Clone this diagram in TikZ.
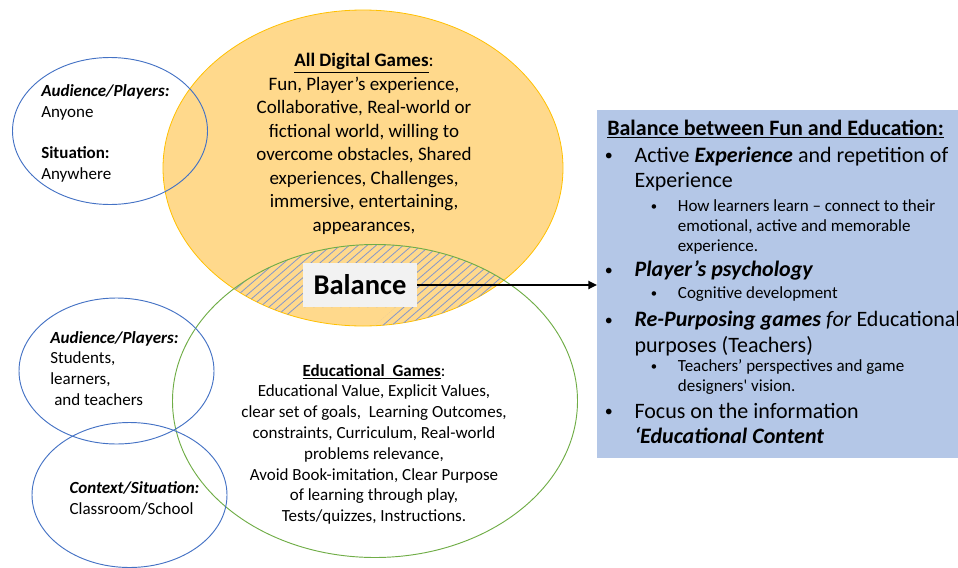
\documentclass[tikz,border=0pt]{standalone}
\usepackage{fontspec}
\setmainfont{Carlito}
\usetikzlibrary{arrows.meta,positioning}
\definecolor{gamefill}{RGB}{255,217,140}
\definecolor{gameline}{RGB}{255,192,0}
\definecolor{edugreen}{RGB}{112,173,71}
\definecolor{ctxblue}{RGB}{68,114,196}
\definecolor{panelblue}{RGB}{180,199,231}
\definecolor{hatchblue}{RGB}{132,151,204}
\definecolor{balgray}{RGB}{242,242,242}
\tikzset{
  ring/.style    ={draw=ctxblue, line width=0.7pt},
  hatch/.style   ={draw=hatchblue, line width=0.6pt},
  gametxt/.style ={align=center, anchor=base, inner sep=0pt,
                   font=\fontsize{14.25}{17.6}\selectfont},
  edutxt/.style  ={align=center, anchor=base, inner sep=0pt,
                   font=\fontsize{12.75}{15.6}\selectfont},
  sidetxt/.style ={align=left, anchor=base west, inner sep=0pt,
                   font=\fontsize{12.75}{15.45}\selectfont},
  balbox/.style  ={rectangle, fill=balgray, inner sep=0pt, minimum width=85.5pt,
                   minimum height=33pt, font=\fontsize{21.4}{24}\selectfont\bfseries},
  panel/.style   ={rectangle, fill=panelblue, anchor=west, inner sep=0pt,
                   minimum width=290pt, minimum height=261pt},
  headtxt/.style ={anchor=base west, inner sep=0pt, font=\fontsize{16.5}{19.3}\selectfont\bfseries},
  itemtxt/.style ={align=left, anchor=base west, inner sep=0pt,
                   font=\fontsize{16.5}{19.3}\selectfont},
  subtxt/.style  ={align=left, anchor=base west, inner sep=0pt,
                   font=\fontsize{12.75}{15}\selectfont},
  bul/.style     ={anchor=base west, inner sep=0pt, font=\fontsize{12}{14}\selectfont},
  subbul/.style  ={anchor=base west, inner sep=0pt, font=\fontsize{9.5}{11}\selectfont},
  link/.style    ={-{Triangle[length=6.5pt,width=6pt]}, line width=2.2pt, draw=black}
}

\begin{document}
\begin{tikzpicture}[x=0.75pt,y=-0.75pt]
  \useasboundingbox (0,0) rectangle (958,568);
  \clip (0,0) rectangle (958,568);

  % digital games, with the shared part hatched
  \path[fill=gamefill, draw=gameline, line width=0.6pt] (363,168) ellipse [x radius=200, y radius=158];
  \begin{scope}
    \clip (363,168) ellipse [x radius=200, y radius=158];
    \clip (375,401) ellipse [x radius=202.5, y radius=156.5];
    \clip (200,236) -- (600,236) -- (600,340) -- (358,340) -- (396,307)
          -- (300,307) -- (275,340) -- (200,340) -- cycle;
    \foreach \k in {0,...,36}
      \draw[hatch] (150+9*\k,340) -- ++(120,-104);
  \end{scope}
  \draw[edugreen, line width=0.7pt] (375,401) ellipse [x radius=202.5, y radius=156.5];

  % who and where
  \draw[ring] (110,131) ellipse [x radius=97.5, y radius=73.5];
  \draw[ring] (116.5,371) ellipse [x radius=97.5, y radius=73];
  \draw[ring] (129.5,495) ellipse [x radius=97.5, y radius=72.5];

  % base anchor = baseline of the last line
  \node[gametxt] (fun) at (364,231) {\underline{\textbf{All Digital Games}}:\\Fun, Player’s experience,\\Collaborative, Real-world or\\fictional world, willing to\\overcome obstacles, Shared\\experiences, Challenges,\\immersive, entertaining,\\appearances,};
  \node[edutxt] (edu) at (374,521.6) {\underline{\textbf{Educational\ \ Games}}:\\Educational Value, Explicit Values,\\clear set of goals,\ \ Learning Outcomes,\\constraints, Curriculum, Real-world\\problems relevance,\\Avoid Book-imitation, Clear Purpose\\of learning through play,\\Tests/quizzes, Instructions.};

  \node[sidetxt] (anyone) at (41,179) {\textbf{\textit{Audience/Players:}}\\Anyone\\[15.45pt]\textbf{Situation:}\\Anywhere};
  \node[sidetxt] (learners) at (50,405) {\textbf{\textit{Audience/Players:}}\\Students,\\learners,\\\hspace{3pt}and teachers};
  \node[sidetxt] (school) at (69.3,514.3) {\textbf{\textit{Context/Situation:}}\\Classroom/School};

  % balance panel
  \node[panel] (mix) at (597,284) {};
  \node[balbox] (bal) at (360,285) {Balance};
  \draw[link] (bal.east) -- (bal.east -| mix.west);

  \node[headtxt] (mixhead) at (607,135) {\underline{Balance between Fun and Education:}};
  \foreach \y [count=\i] in {160,275,325.5,416.5}
    \node[bul] (dot\i) at (604.5,\y) {•};
  \foreach \y [count=\i] in {210.4,297,370.4}
    \node[subbul] (sdot\i) at (650.5,\y) {•};
  \node[itemtxt] (it1) at (634.3,187.8) {Active \textbf{\textit{Experience}} and repetition of\\Experience};
  \node[subtxt] (sub1) at (677.7,251.7) {How learners learn -- connect to their\\emotional, active and memorable\\experience.};
  \node[itemtxt] (it2) at (634.3,276.7) {\textbf{\textit{Player’s psychology}}};
  \node[subtxt] (sub2) at (677.7,298.3) {Cognitive development};
  \node[itemtxt] (it3) at (634.3,352.5) {\textbf{\textit{Re-Purposing games}} \textit{for} Educational\\purposes (Teachers)};
  \node[subtxt] (sub3) at (677.7,391.7) {Teachers’ perspectives and game\\designers\textquotesingle{} vision.};
  \node[itemtxt] (it4) at (634.3,443.8) {Focus on the information\\\textbf{\textit{‘Educational Content}}};
\end{tikzpicture}
\end{document}
